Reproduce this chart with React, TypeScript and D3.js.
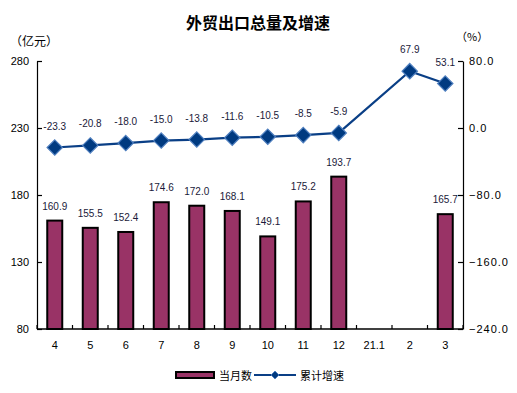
import React, { useEffect, useRef } from "react";
import * as d3 from "d3";

const months = ["4", "5", "6", "7", "8", "9", "10", "11", "12", "21.1", "2", "3"];
const monthly = [160.9, 155.5, 152.4, 174.6, 172.0, 168.1, 149.1, 175.2, 193.7, null, null, 165.7];
const growth = [-23.3, -20.8, -18.0, -15.0, -13.8, -11.6, -10.5, -8.5, -5.9, null, 67.9, 53.1];
const leftTicks = [80, 130, 180, 230, 280];
const rightTicks = [-240, -160, -80, 0, 80];

const BAR = "#993366";
const LINE = "#0a3f86";
const FONT = "'Liberation Sans', Arial, sans-serif";

const App = () => {
  const ref = useRef(null);

  useEffect(() => {
    const svg = d3.select(ref.current);
    svg.selectAll("*").remove();

    const left = 37, right = 463, top = 61, bottom = 329;

    const x = d3.scaleBand().domain(months).range([left, right]).padding(0);
    const yL = d3.scaleLinear().domain([80, 280]).range([bottom, top]);
    const yR = d3.scaleLinear().domain([-240, 80]).range([bottom, top]);

    // title and units
    svg.append("text").attr("x", 258).attr("y", 29).attr("text-anchor", "middle")
      .style("font-family", "'Noto Sans CJK SC', sans-serif").style("font-size", "16px").style("font-weight", "bold")
      .text("外贸出口总量及增速");
    svg.append("text").attr("x", 10).attr("y", 46)
      .style("font-family", "'Noto Sans CJK SC', sans-serif").style("font-size", "12px").text("（亿元）");
    svg.append("text").attr("x", 456).attr("y", 41)
      .style("font-family", "'Noto Sans CJK SC', sans-serif").style("font-size", "11px").text("（%）");

    // bars
    const bars = months.map((m, i) => ({ m, v: monthly[i] })).filter((d) => d.v != null);
    const bw = 15;
    svg.selectAll("rect.bar").data(bars).enter().append("rect")
      .attr("class", "bar")
      .attr("x", (d) => x(d.m) + x.bandwidth() / 2 - bw / 2)
      .attr("y", (d) => yL(d.v))
      .attr("width", bw)
      .attr("height", (d) => bottom - yL(d.v))
      .attr("fill", BAR).attr("stroke", "#000").attr("stroke-width", 2);

    svg.selectAll("text.blab").data(bars).enter().append("text")
      .attr("class", "blab")
      .attr("x", (d) => x(d.m) + x.bandwidth() / 2)
      .attr("y", (d) => yL(d.v) - 11)
      .attr("text-anchor", "middle").attr("fill", "#1a1a3a")
      .style("font-family", FONT).style("font-size", "10px")
      .text((d) => d.v.toFixed(1));

    // axes
    const gL = svg.append("g").attr("transform", `translate(${left},0)`)
      .call(d3.axisRight(yL).tickValues(leftTicks).tickSize(5).tickSizeOuter(0).tickFormat(d3.format("d")));
    gL.selectAll("text").attr("x", -8).attr("text-anchor", "end");
    const gR = svg.append("g").attr("transform", `translate(${right},0)`)
      .call(d3.axisLeft(yR).tickValues(rightTicks).tickSize(5).tickSizeOuter(0).tickFormat(d3.format(".1f")));
    gR.selectAll("text").attr("x", 6).attr("text-anchor", "start").style("letter-spacing", "1px");
    [gL, gR].forEach((g) => {
      g.selectAll("path,line").attr("stroke", "#000").attr("stroke-width", 1.2);
      g.selectAll("text").style("font-family", FONT).style("font-size", "11px").attr("fill", "#000");
    });

    const edges = months.map((m) => x(m)).concat([right]);
    svg.selectAll("line.xt").data(edges).enter().append("line")
      .attr("class", "xt")
      .attr("x1", (d) => d).attr("x2", (d) => d)
      .attr("y1", bottom - 4).attr("y2", bottom)
      .attr("stroke", "#000").attr("stroke-width", 1.2);
    svg.append("line").attr("x1", left).attr("x2", right).attr("y1", bottom).attr("y2", bottom)
      .attr("stroke", "#000").attr("stroke-width", 1.5);
    svg.selectAll("text.xl").data(months).enter().append("text")
      .attr("class", "xl")
      .attr("x", (d) => x(d) + x.bandwidth() / 2).attr("y", 349)
      .attr("text-anchor", "middle")
      .style("font-family", FONT).style("font-size", "11px")
      .text((d) => d);

    // line
    const pts = months.map((m, i) => ({ m, v: growth[i] })).filter((d) => d.v != null);
    const line = d3.line().x((d) => x(d.m) + x.bandwidth() / 2).y((d) => yR(d.v));
    svg.append("path").datum(pts).attr("d", line)
      .attr("fill", "none").attr("stroke", LINE).attr("stroke-width", 2.2);

    const diamond = d3.symbol().type(d3.symbolDiamond2).size(150);
    svg.selectAll("path.pt").data(pts).enter().append("path")
      .attr("class", "pt")
      .attr("transform", (d) => `translate(${x(d.m) + x.bandwidth() / 2},${yR(d.v)})`)
      .attr("d", diamond)
      .attr("fill", "#003a80").attr("stroke", "#4f7fbf").attr("stroke-width", 1.2);

    svg.selectAll("text.llab").data(pts).enter().append("text")
      .attr("class", "llab")
      .attr("x", (d) => x(d.m) + x.bandwidth() / 2)
      .attr("y", (d) => yR(d.v) - 18)
      .attr("text-anchor", "middle").attr("fill", "#1a1a3a")
      .style("font-family", FONT).style("font-size", "10px")
      .text((d) => d.v.toFixed(1));

    // legend
    const lg = svg.append("g");
    lg.append("rect").attr("x", 176).attr("y", 372).attr("width", 38).attr("height", 6)
      .attr("fill", BAR).attr("stroke", "#000").attr("stroke-width", 2);
    lg.append("text").attr("x", 219).attr("y", 380)
      .style("font-family", "'Noto Sans CJK SC', sans-serif").style("font-size", "11px").text("当月数");
    lg.append("line").attr("x1", 254).attr("x2", 296).attr("y1", 375).attr("y2", 375)
      .attr("stroke", LINE).attr("stroke-width", 2);
    lg.append("path").attr("transform", "translate(275,375)").attr("d", d3.symbol().type(d3.symbolDiamond2).size(40))
      .attr("fill", "#003a80").attr("stroke", "#4f7fbf").attr("stroke-width", 1);
    lg.append("text").attr("x", 300).attr("y", 380)
      .style("font-family", "'Noto Sans CJK SC', sans-serif").style("font-size", "11px").text("累计增速");
  }, []);

  return (
    <svg ref={ref} width={517} height={393}
      style={{ position: "absolute", left: 0, top: 0, background: "#fff" }}></svg>
  );
};

export default App;
